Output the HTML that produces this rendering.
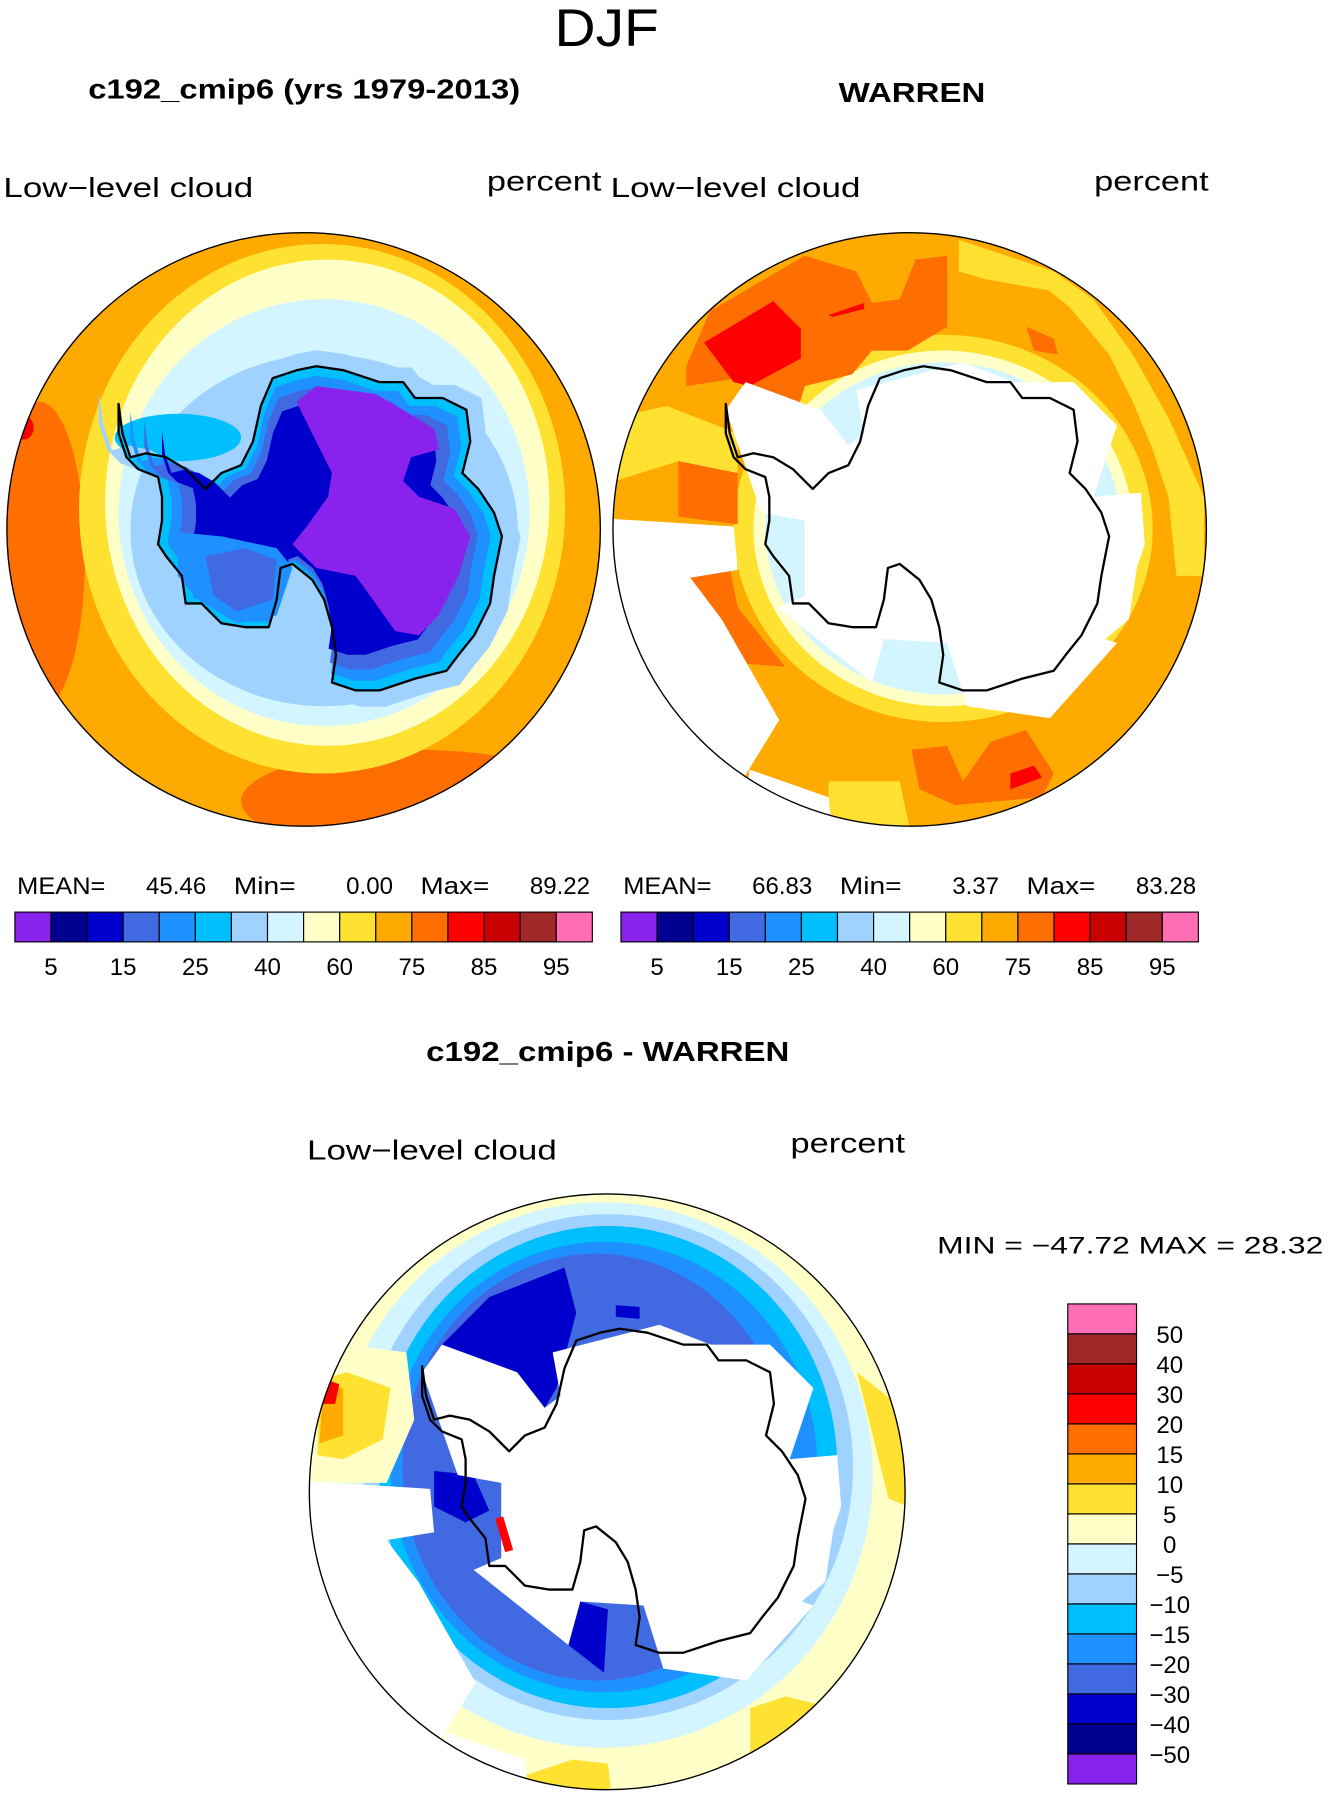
<!DOCTYPE html>
<html><head><meta charset="utf-8">
<style>
html,body{margin:0;padding:0;background:#fff;}
svg{display:block;font-family:"Liberation Sans",sans-serif;}
</style></head>
<body>
<svg id="fig" width="1329" height="1799" viewBox="0 0 1160 1570" xmlns="http://www.w3.org/2000/svg">
<defs>
<clipPath id="clipL"><circle cx="265" cy="462" r="259"/></clipPath>
<clipPath id="clipR"><circle cx="794" cy="462" r="259"/></clipPath>
<clipPath id="clipB"><circle cx="530" cy="1302" r="260"/></clipPath>
</defs>
<text x="484" y="40" font-size="46" textLength="91" lengthAdjust="spacingAndGlyphs">DJF</text>
<text x="77" y="86" font-size="24" font-weight="bold" textLength="377" lengthAdjust="spacingAndGlyphs">c192_cmip6 (yrs 1979-2013)</text>
<text x="732" y="89" font-size="24" font-weight="bold" textLength="128" lengthAdjust="spacingAndGlyphs">WARREN</text>
<text x="3" y="172" font-size="24" textLength="218" lengthAdjust="spacingAndGlyphs">Low−level cloud</text>
<text x="425" y="166" font-size="24" textLength="100" lengthAdjust="spacingAndGlyphs">percent</text>
<text x="533" y="172" font-size="24" textLength="218" lengthAdjust="spacingAndGlyphs">Low−level cloud</text>
<text x="955" y="166" font-size="24" textLength="100" lengthAdjust="spacingAndGlyphs">percent</text>
<text x="372" y="926" font-size="24" font-weight="bold" textLength="317" lengthAdjust="spacingAndGlyphs">c192_cmip6 - WARREN</text>
<text x="268" y="1012" font-size="24" textLength="218" lengthAdjust="spacingAndGlyphs">Low−level cloud</text>
<text x="690" y="1006" font-size="24" textLength="100" lengthAdjust="spacingAndGlyphs">percent</text>
<g id="mapL" clip-path="url(#clipL)"></g>
<g id="mapR" clip-path="url(#clipR)"></g>
<g id="mapB" clip-path="url(#clipB)"></g>
<g id="annot"></g>
</svg>
<script>
// ---- colour scale data ----
const fillColors = ["#8a22ee","#000090","#0000cd","#4169e1","#1e90ff","#00bfff","#a0d2ff","#d2f5ff","#ffffc8","#ffe132","#ffaa00","#ff6e00","#ff0000","#c80000","#a02828","#ff6eb4"];
const absLevels = [5,10,15,20,25,30,40,50,60,70,75,80,85,90,95];
const absTickLabels = ["5","15","25","40","60","75","85","95"];
const absTickIdx = [0,2,4,6,8,10,12,14];
const diffLevels = [-50,-40,-30,-20,-15,-10,-5,0,5,10,15,20,30,40,50];
const diffTickLabels = ["50","40","30","20","15","10","5","0","−5","−10","−15","−20","−30","−40","−50"];
const modelStats = ["45.46","0.00","89.22"];
const obsStats = ["66.83","3.37","83.28"];
const diffStats = ["−47.72","28.32"];

const NS="http://www.w3.org/2000/svg";
function mk(tag,attrs,parent){const e=document.createElementNS(NS,tag);for(const k in attrs)e.setAttribute(k,attrs[k]);parent.appendChild(e);return e;}
const S=0.345;
function pts(arr,ox,oy,sc,cx,cy){sc=sc||1;cx=cx||800;cy=cy||780;let s=[];for(let i=0;i<arr.length;i+=2){const x=cx+(arr[i]-cx)*sc, y=cy+(arr[i+1]-cy)*sc;s.push((x*S+ox).toFixed(1)+","+(y*S+oy).toFixed(1));}return s.join(" ");}
function poly(g,arr,fill,ox,oy,name,sc){const p=mk("polygon",{points:pts(arr,ox,oy,sc),fill:fill},g);return p;}
function ell(g,cx,cy,rx,ry,fill,ox,oy,name){const e=mk("ellipse",{cx:cx*S+ox,cy:cy*S+oy,rx:rx*S,ry:ry*S,fill:fill},g);return e;}
const C=fillColors;

const coast=[300,465,310,540,330,600,370,590,420,600,470,630,520,680,560,640,610,620,640,560,660,470,690,400,750,380,800,370,870,380,960,410,1020,410,1050,450,1120,450,1180,480,1190,560,1170,640,1210,680,1250,740,1270,800,1250,900,1240,970,1200,1050,1160,1100,1130,1140,1050,1160,960,1190,900,1190,840,1170,850,1100,840,1030,820,960,790,910,740,870,710,880,700,960,680,1030,620,1030,560,1020,510,970,470,970,460,900,420,850,400,820,410,760,410,700,400,650,350,630,320,600,300,540];
const purple=[750,460,800,420,950,440,1020,480,1100,530,1110,580,1040,600,1020,660,1060,700,1150,730,1190,800,1160,900,1110,1000,1060,1050,1000,1040,950,970,900,900,800,880,740,820,780,770,830,700,840,640,800,560];
const whiteMask=[350,410,540,480,610,570,650,540,630,430,900,360,1030,410,1180,410,1290,520,1230,700,1350,690,1360,820,1340,880,1320,1010,1260,1060,1290,1070,1120,1260,910,1230,860,1070,700,1060,670,1170,430,980,500,950,500,760,390,740,300,480];
const whiteLeft=[0,755,320,775,330,885,210,905,290,1010,435,1265,340,1420,100,1300,0,900];
const whiteBL=[360,1390,560,1460,570,1560,340,1560];

function coastLine(g,ox,oy,name){const p=mk("polygon",{points:pts(coast,ox,oy),fill:"none",stroke:"#000","stroke-width":2,"stroke-linejoin":"round"},g);}

// ---- left map ----
(function(){const g=document.getElementById('mapL');const ox=0,oy=192;
mk("rect",{x:0,y:200,width:530,height:530,fill:C[10]},g);
ell(g,100,850,115,390,C[11],ox,oy,'orange-band-west');
ell(g,1050,1470,440,130,C[11],ox,oy,'orange-band-south');
ell(g,60,525,25,30,C[12],ox,oy,'red-spot-west');
ell(g,815,730,615,670,C[9],ox,oy,'contour-70');
ell(g,828,715,562,615,C[8],ox,oy,'contour-60');
ell(g,820,740,520,540,C[7],ox,oy,'contour-50');
ell(g,820,785,490,445,C[6],ox,oy,'contour-40');
ell(g,450,550,160,60,C[5],ox,oy,'contour-30-west');
poly(g,coast,C[6],ox,oy,'coastal-halo',1.1);
poly(g,coast,C[5],ox,oy,'land-contour-30',1.0);
poly(g,coast,C[4],ox,oy,'land-contour-25',0.94);
poly(g,coast,C[3],ox,oy,'land-contour-20',0.87);
poly(g,coast,C[2],ox,oy,'land-contour-15',0.78);
poly(g,[450,790,560,800,700,830,740,880,700,1000,600,1020,500,960,450,900],C[4],ox,oy,'west-land-contour-25');
poly(g,[520,850,620,830,700,860,690,960,600,990,540,950],C[3],ox,oy,'west-land-contour-20');
poly(g,purple,C[0],ox,oy,'land-contour-5');
coastLine(g,ox,oy,'coastline');
})();

// ---- right map ----
(function(){const g=document.getElementById('mapR');const ox=530,oy=192;
mk("rect",{x:530,y:200,width:530,height:530,fill:C[10]},g);
poly(g,[1130,130,1230,200,1330,340,1420,500,1510,700,1510,900,1440,900,1420,700,1380,580,1330,460,1270,340,1170,220,1120,180],C[9],ox,oy,'yellow-east');
poly(g,[890,50,1130,130,1130,180,960,150,890,130],C[9],ox,oy,'yellow-north');
ell(g,850,780,530,490,C[9],ox,oy,'yellow-inner-ring');
ell(g,850,780,480,450,C[8],ox,oy,'pale-inner-ring');
ell(g,850,780,450,420,C[7],ox,oy,'cyan-inner-ring');
poly(g,[560,1420,740,1420,770,1560,560,1560],C[9],ox,oy,'yellow-south');
poly(g,[20,500,150,470,330,540,330,640,180,610,20,660],C[9],ox,oy,'yellow-west');
poly(g,[200,370,260,230,500,90,630,130,670,210,740,200,780,100,860,90,860,270,760,330,670,330,620,390,500,420,470,520,330,400,200,420],C[11],ox,oy,'orange-north-west');
poly(g,[180,610,330,640,330,770,180,750],C[11],ox,oy,'orange-west');
poly(g,[200,900,310,880,330,980,450,1130,320,1120,260,1060],C[11],ox,oy,'orange-south-west');
poly(g,[770,1340,860,1330,900,1420,970,1320,1060,1290,1130,1400,1100,1460,880,1480,790,1440],C[11],ox,oy,'orange-south');
poly(g,[1060,270,1130,300,1140,340,1080,330],C[11],ox,oy,'orange-north-east');
poly(g,[245,310,420,205,490,275,490,350,360,420,320,410],C[12],ox,oy,'red-patch');
poly(g,[1020,1400,1080,1380,1100,1410,1020,1440],C[12],ox,oy,'red-patch-south');
poly(g,[560,240,650,210,650,225,570,245],C[12],ox,oy,'red-streak');
poly(g,whiteMask,"#fff",ox,oy,'missing-data');
poly(g,whiteLeft,"#fff",ox,oy,'missing-data-west');
poly(g,whiteBL,"#fff",ox,oy,'missing-data-south');
coastLine(g,ox,oy,'coastline');
})();

// ---- bottom diff map ----
(function(){const g=document.getElementById('mapB');const ox=265,oy=1032;
mk("rect",{x:260,y:1030,width:550,height:550,fill:C[8]},g);
ell(g,760,740,680,690,C[7],ox,oy,'contour-neg5');
ell(g,770,720,620,640,C[6],ox,oy,'contour-neg10');
ell(g,770,720,580,610,C[5],ox,oy,'contour-neg15');
ell(g,760,720,540,570,C[4],ox,oy,'contour-neg20');
ell(g,740,720,490,540,C[3],ox,oy,'contour-neg30');
poly(g,[30,400,260,430,280,600,210,760,30,760],C[8],ox,oy,'pale-west');
poly(g,[40,500,110,480,220,520,200,650,100,700,35,690],C[9],ox,oy,'yellow-west');
poly(g,[50,510,100,520,100,640,40,660],C[10],ox,oy,'orange-west');
poly(g,[60,500,90,510,80,560,50,560],C[12],ox,oy,'red-west');
poly(g,[560,1500,680,1460,770,1470,780,1560,560,1560],C[9],ox,oy,'yellow-south');
poly(g,[1130,1330,1220,1300,1340,1330,1350,1450,1130,1450],C[9],ox,oy,'yellow-south-east');
poly(g,[1400,480,1500,560,1530,820,1480,800],C[9],ox,oy,'yellow-east');
poly(g,[350,410,470,290,660,215,690,330,640,520,610,570,540,480,490,525],C[2],ox,oy,'blue-north-west');
poly(g,[410,450,480,460,520,490,490,525,430,480],C[1],ox,oy,'navy-north-west');
poly(g,[330,730,430,740,470,830,410,860,330,820],C[2],ox,oy,'blue-west');
poly(g,[700,1060,770,1080,760,1240,670,1170],C[2],ox,oy,'blue-south');
poly(g,[790,310,850,315,850,345,790,340],C[2],ox,oy,'blue-north');
poly(g,whiteMask,"#fff",ox,oy,'missing-data');
poly(g,whiteLeft,"#fff",ox,oy,'missing-data-west');
poly(g,whiteBL,"#fff",ox,oy,'missing-data-south');
poly(g,[485,850,505,845,530,930,510,935],C[12],ox,oy,'red-coastal-streak');
coastLine(g,ox,oy,'coastline');
})();

// ---- circle borders ----
const ann=document.getElementById('annot');
[[265,462,259,'model-map-border'],[794,462,259,'obs-map-border'],[530,1302,260,'diff-map-border']].forEach(c=>{
const e=mk("circle",{cx:c[0],cy:c[1],r:c[2],fill:"none",stroke:"#000","stroke-width":1.2},ann);

});

// ---- stats lines ----
function statsLine(x0,vals,name){
const labels=["MEAN=",vals[0],"Min=",vals[1],"Max=",vals[2]];
const xs=[0,165,189,328,352,500];
const ws=[77,64,54,50,60,62];
labels.forEach((t,i)=>{const e=mk("text",{x:x0+xs[i],y:780,"font-size":21,"text-anchor":i%2?"end":"start"},ann);e.textContent=t;
if(i%2===0){e.setAttribute('textLength',ws[i]);e.setAttribute('lengthAdjust','spacingAndGlyphs');}

});}
statsLine(15,modelStats,'model-stats');
statsLine(544,obsStats,'obs-stats');

// ---- horizontal colour bars ----
function hbar(x0,name){const w=504/16;
fillColors.forEach((c,i)=>{const r=mk("rect",{x:x0+i*w,y:796,width:w,height:26,fill:c,stroke:"#000","stroke-width":1},ann);

});
absTickLabels.forEach((t,k)=>{const i=absTickIdx[k];const e=mk("text",{x:x0+(i+1)*w,y:851,"font-size":21,"text-anchor":"middle"},ann);e.textContent=t;

});}
hbar(13,'model-colorbar');
hbar(542,'obs-colorbar');

// ---- diff stats and vertical colour bar ----
const ms=mk("text",{x:818,y:1094,"font-size":21,textLength:337,lengthAdjust:"spacingAndGlyphs"},ann);
ms.textContent="MIN = "+diffStats[0]+" MAX =  "+diffStats[1];
ms.setAttribute('xml:space','preserve');


(function(){const y0=1138,h=419/16;
for(let i=0;i<16;i++){const r=mk("rect",{x:932,y:y0+i*h,width:60,height:h,fill:fillColors[15-i],stroke:"#000","stroke-width":1},ann);

}
diffTickLabels.forEach((t,i)=>{const e=mk("text",{x:1021,y:y0+(i+1)*h+8,"font-size":21,"text-anchor":"middle"},ann);e.textContent=t;

});})();
</script>
</body></html>
